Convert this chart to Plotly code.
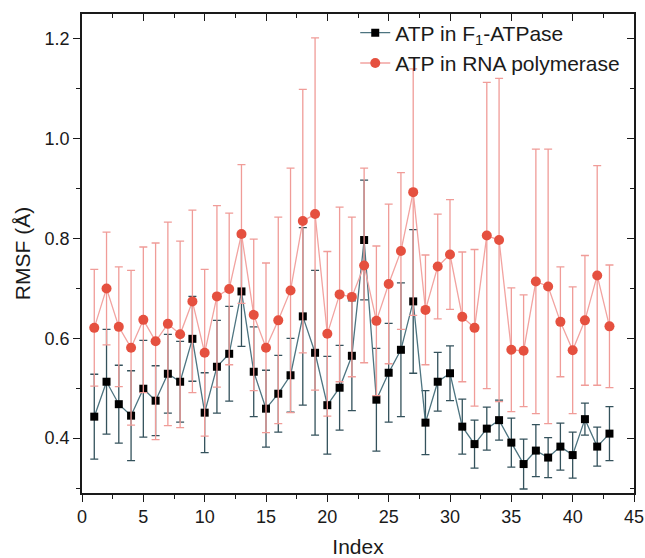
import plotly.graph_objects as go

index = list(range(1, 44))

f1_rmsf = [0.443, 0.513, 0.468, 0.445, 0.499, 0.475, 0.529, 0.513, 0.599, 0.451,
           0.543, 0.569, 0.694, 0.533, 0.459, 0.489, 0.526, 0.644, 0.571, 0.466,
           0.501, 0.565, 0.797, 0.477, 0.531, 0.577, 0.674, 0.431, 0.513, 0.530,
           0.423, 0.388, 0.419, 0.436, 0.391, 0.348, 0.375, 0.361, 0.383, 0.366,
           0.438, 0.383, 0.409]
f1_err = [0.085, 0.105, 0.078, 0.090, 0.097, 0.070, 0.079, 0.081, 0.085, 0.080,
          0.093, 0.095, 0.110, 0.090, 0.077, 0.077, 0.074, 0.178, 0.165, 0.098,
          0.085, 0.110, 0.120, 0.103, 0.099, 0.134, 0.144, 0.064, 0.059, 0.055,
          0.055, 0.048, 0.043, 0.040, 0.049, 0.050, 0.052, 0.040, 0.047, 0.046,
          0.032, 0.039, 0.054]

rnap_rmsf = [0.621, 0.700, 0.623, 0.581, 0.637, 0.594, 0.629, 0.608, 0.674, 0.571,
             0.684, 0.699, 0.809, 0.647, 0.581, 0.636, 0.696, 0.835, 0.849, 0.609,
             0.688, 0.683, 0.746, 0.635, 0.709, 0.775, 0.893, 0.657, 0.744, 0.768,
             0.643, 0.621, 0.806, 0.797, 0.577, 0.575, 0.714, 0.704, 0.633, 0.576,
             0.636, 0.726, 0.624]
rnap_err = [0.117, 0.113, 0.120, 0.155, 0.146, 0.197, 0.204, 0.187, 0.183, 0.167,
            0.182, 0.152, 0.139, 0.152, 0.170, 0.207, 0.245, 0.264, 0.353, 0.165,
            0.175, 0.160, 0.195, 0.150, 0.160, 0.157, 0.247, 0.110, 0.105, 0.110,
            0.130, 0.157, 0.307, 0.324, 0.124, 0.112, 0.265, 0.275, 0.110, 0.127,
            0.130, 0.220, 0.123]

FONT = "Liberation Sans, Arial, sans-serif"

fig = go.Figure()

fig.add_trace(go.Scatter(
    x=index, y=f1_rmsf, mode="lines+markers",
    name="ATP in F<sub>1</sub>-ATPase",
    line=dict(color="#4d7480", width=1.3),
    marker=dict(symbol="square", size=8, color="black"),
    error_y=dict(type="data", array=f1_err, visible=True,
                 color="#34525c", thickness=1.3, width=4),
))

fig.add_trace(go.Scatter(
    x=index, y=rnap_rmsf, mode="lines+markers",
    name="ATP in RNA polymerase",
    line=dict(color="#f2a3a0", width=1.3),
    marker=dict(symbol="circle", size=10, color="#e5503f"),
    error_y=dict(type="data", array=rnap_err, visible=True,
                 color="#f09c98", thickness=1.3, width=4),
))

# invisible trace for mirrored (inward) ticks on top/right axes
fig.add_trace(go.Scatter(
    x=index, y=f1_rmsf, xaxis="x2", yaxis="y2", mode="markers",
    marker=dict(opacity=0), showlegend=False, hoverinfo="skip",
))

axis_common = dict(showgrid=False, zeroline=False, showline=True,
                   linecolor="#1a1a1a", linewidth=1.6, tickcolor="#1a1a1a",
                   tickwidth=1.4, automargin=False)

fig.update_layout(
    width=645, height=558,
    margin=dict(l=82, r=11, t=14, b=65, autoexpand=False),
    paper_bgcolor="white", plot_bgcolor="white",
    font=dict(family=FONT, size=18, color="#1a1a1a"),
    showlegend=True,
    legend=dict(x=0.495, y=1.003, xanchor="left", yanchor="top",
                bgcolor="rgba(0,0,0,0)", font=dict(size=21, family=FONT),
                tracegroupgap=0, itemsizing="trace"),
    xaxis=dict(range=[0, 45], dtick=5, tick0=0, ticks="outside", ticklen=7,
               title=dict(text="Index", font=dict(size=21), standoff=18),
               minor=dict(ticks="outside", dtick=2.5, ticklen=4,
                          tickcolor="#1a1a1a"),
               **axis_common),
    yaxis=dict(range=[0.29, 1.25], dtick=0.2, tick0=0.4, ticks="outside",
               ticklen=7, tickformat=".1f",
               title=dict(text="RMSF (Å)", font=dict(size=21), standoff=8),
               minor=dict(ticks="outside", dtick=0.1, ticklen=4,
                          tickcolor="#1a1a1a"),
               **axis_common),
    xaxis2=dict(overlaying="x", side="top", matches="x", range=[0, 45],
                dtick=5, tick0=0, ticks="inside", ticklen=7,
                showticklabels=False,
                minor=dict(ticks="inside", dtick=2.5, ticklen=4,
                           tickcolor="#1a1a1a"),
                **axis_common),
    yaxis2=dict(overlaying="y", side="right", matches="y", range=[0.29, 1.25],
                dtick=0.2, tick0=0.4, ticks="inside", ticklen=7,
                showticklabels=False,
                minor=dict(ticks="inside", dtick=0.1, ticklen=4,
                           tickcolor="#1a1a1a"),
                **axis_common),
)

fig.write_html("out.html")
